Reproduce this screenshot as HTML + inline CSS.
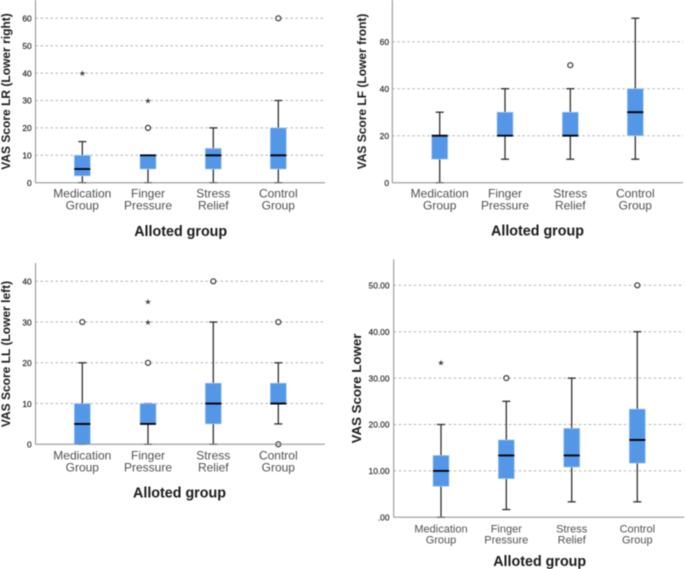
<!DOCTYPE html>
<html>
<head>
<meta charset="utf-8">
<style>
html,body{margin:0;padding:0;background:#fff;width:685px;height:569px;overflow:hidden}
svg{display:block;filter:blur(0.5px)}
text{font-family:"Liberation Sans",sans-serif}
</style>
</head>
<body>
<svg id="figure" width="685" height="569" viewBox="0 0 685 569" xmlns="http://www.w3.org/2000/svg"></svg>
<script>
var groupLines = [["Medication","Group"],["Finger","Pressure"],["Stress","Relief"],["Control","Group"]];
var xAxisTitle = "Alloted group";

// each box: [min, q1, median, q3, max]
var lrBoxes = [[0,2.5,5,10,15],[0,5,10,10,10],[0,5,10,12.5,20],[0,5,10,20,30]];
var lrCircles = [[],[20],[],[60]];
var lrStars = [[40],[30],[],[]];
var lrTicks = [0,10,20,30,40,50,60];
var lrTickLabels = ["0","10","20","30","40","50","60"];

var lfBoxes = [[0,10,20,20,30],[10,20,20,30,40],[10,20,20,30,40],[10,20,30,40,70]];
var lfCircles = [[],[],[50],[]];
var lfStars = [[],[],[],[]];
var lfTicks = [0,20,40,60];
var lfTickLabels = ["0","20","40","60"];

var llBoxes = [[0,0,5,10,20],[0,5,5,10,10],[0,5,10,15,30],[5,10,10,15,20]];
var llCircles = [[30],[20],[40],[0,30]];
var llStars = [[],[30,35],[],[]];
var llTicks = [0,10,20,30,40];
var llTickLabels = ["0","10","20","30","40"];

var lowerBoxes = [[0,6.67,10,13.33,20],[1.67,8.33,13.33,16.67,25],[3.33,10.83,13.33,19.17,30],[3.33,11.67,16.67,23.33,40]];
var lowerCircles = [[],[30],[],[50]];
var lowerStars = [[33.33],[],[],[]];
var lowerTicks = [0,10,20,30,40,50];
var lowerTickLabels = [".00","10.00","20.00","30.00","40.00","50.00"];

var svg = document.getElementById('figure');
var NS = 'http://www.w3.org/2000/svg';

function make(parent, tag, attrs, name, text) {
  var el = document.createElementNS(NS, tag);
  for (var k in attrs) { el.setAttribute(k, attrs[k]); }
  
  
  if (text !== undefined) { el.textContent = text; }
  parent.appendChild(el);
  return el;
}

function drawPanel(p) {
  var g = make(svg, 'g', {}, p.id + '-chart');
  function y(v) { return p.base - v * p.unit; }
  function x(i) { return p.centers[i]; }

  p.ticks.forEach(function (t, i) {
    if (t !== 0) {
      make(g, 'line', {x1: p.axisX, x2: p.right, y1: y(t), y2: y(t), stroke: '#b4b4b4', 'stroke-width': 1, 'stroke-dasharray': '2.5 2.5'}, 'gridline-' + p.tickLabels[i]);
    }
    make(g, 'text', {x: p.tickX, y: y(t) + 3.2, 'text-anchor': 'end', 'font-size': 8.4, fill: '#2e2e2e', stroke: '#2e2e2e', 'stroke-width': 0.2}, 'y-tick-label-' + p.tickLabels[i], p.tickLabels[i]);
  });

  p.boxes.forEach(function (b, i) {
    var cx = x(i), hw = 8, cap = 4;
    make(g, 'line', {x1: cx, x2: cx, y1: y(b[0]), y2: y(b[4]), stroke: '#2e2e2e', 'stroke-width': 1.3}, 'whisker-' + i);
    make(g, 'line', {x1: cx - cap, x2: cx + cap, y1: y(b[0]), y2: y(b[0]), stroke: '#2e2e2e', 'stroke-width': 1.3}, 'lower-cap-' + i);
    make(g, 'line', {x1: cx - cap, x2: cx + cap, y1: y(b[4]), y2: y(b[4]), stroke: '#2e2e2e', 'stroke-width': 1.3}, 'upper-cap-' + i);
    make(g, 'rect', {x: cx - hw, y: y(b[3]), width: hw * 2, height: Math.max(y(b[1]) - y(b[3]), 0), fill: '#5497e6', stroke: '#a9cbf3', 'stroke-width': 0.7}, 'box-' + i);
    make(g, 'line', {x1: cx - hw, x2: cx + hw, y1: y(b[2]), y2: y(b[2]), stroke: '#000008', 'stroke-width': 1.8}, 'median-' + i);
    p.circles[i].forEach(function (v) {
      make(g, 'circle', {cx: cx, cy: y(v), r: 2.5, fill: '#fff', stroke: '#333', 'stroke-width': 1.2}, 'outlier-circle-' + i);
    });
    p.stars[i].forEach(function (v) {
      make(g, 'text', {x: cx, y: y(v) + 2.9, 'text-anchor': 'middle', 'font-size': 8, fill: '#444'}, 'outlier-star-' + i, '★');
    });
    groupLines[i].forEach(function (line, j) {
      make(g, 'text', {x: cx, y: p.labelY + j * p.labelGap, 'text-anchor': 'middle', 'font-size': p.labelSize, fill: '#505050'}, 'group-label-' + i, line);
    });
  });

  make(g, 'line', {x1: p.axisX, x2: p.axisX, y1: p.top, y2: p.base, stroke: '#8c8c8c', 'stroke-width': 1}, 'y-axis-line');
  make(g, 'line', {x1: p.axisX, x2: p.right, y1: p.base, y2: p.base, stroke: '#8c8c8c', 'stroke-width': 1}, 'x-axis-line');

  make(g, 'text', {x: p.titleX, y: p.titleY, 'text-anchor': 'middle', 'font-size': 14.3, 'font-weight': 'bold', fill: '#1a1a1a'}, 'x-axis-title', xAxisTitle);
  make(g, 'text', {x: 0, y: 0, transform: 'translate(' + p.yTitleX + ',' + p.yTitleY + ') rotate(-90)', 'text-anchor': 'middle', 'font-size': p.yTitleSize, 'font-weight': 'bold', fill: '#1a1a1a'}, 'y-axis-title', p.yTitle);
}

drawPanel({id: 'lower-right', boxes: lrBoxes, circles: lrCircles, stars: lrStars, ticks: lrTicks, tickLabels: lrTickLabels,
  base: 182.7, unit: 2.74, top: 0, axisX: 35.5, right: 325, tickX: 31.7, centers: [82.3,148,213.3,278.3],
  labelY: 197.5, labelGap: 12, labelSize: 12, titleX: 180.7, titleY: 236, yTitle: 'VAS Score LR (Lower right)', yTitleX: 10, yTitleY: 91.5, yTitleSize: 12});
drawPanel({id: 'lower-front', boxes: lfBoxes, circles: lfCircles, stars: lfStars, ticks: lfTicks, tickLabels: lfTickLabels,
  base: 182.7, unit: 2.35, top: 0, axisX: 392.3, right: 683, tickX: 389, centers: [439.7,505,570.3,635.3],
  labelY: 197.5, labelGap: 12, labelSize: 12, titleX: 537.5, titleY: 235.5, yTitle: 'VAS Score LF (Lower front)', yTitleX: 366, yTitleY: 91.5, yTitleSize: 12});
drawPanel({id: 'lower-left', boxes: llBoxes, circles: llCircles, stars: llStars, ticks: llTicks, tickLabels: llTickLabels,
  base: 444.3, unit: 4.075, top: 263, axisX: 35.5, right: 325, tickX: 31.7, centers: [82.3,148,213.3,278.3],
  labelY: 459.5, labelGap: 12, labelSize: 12, titleX: 179.5, titleY: 497.5, yTitle: 'VAS Score LL (Lower left)', yTitleX: 10, yTitleY: 354, yTitleSize: 12});
drawPanel({id: 'lower-total', boxes: lowerBoxes, circles: lowerCircles, stars: lowerStars, ticks: lowerTicks, tickLabels: lowerTickLabels,
  base: 517.3, unit: 4.64, top: 259.3, axisX: 393.7, right: 684, tickX: 389.5, centers: [441,506.3,571.7,637.3],
  labelY: 532.3, labelGap: 11, labelSize: 11, titleX: 539.7, titleY: 566, yTitle: 'VAS Score Lower', yTitleX: 361, yTitleY: 388.5, yTitleSize: 13.3});
</script>
</body>
</html>
